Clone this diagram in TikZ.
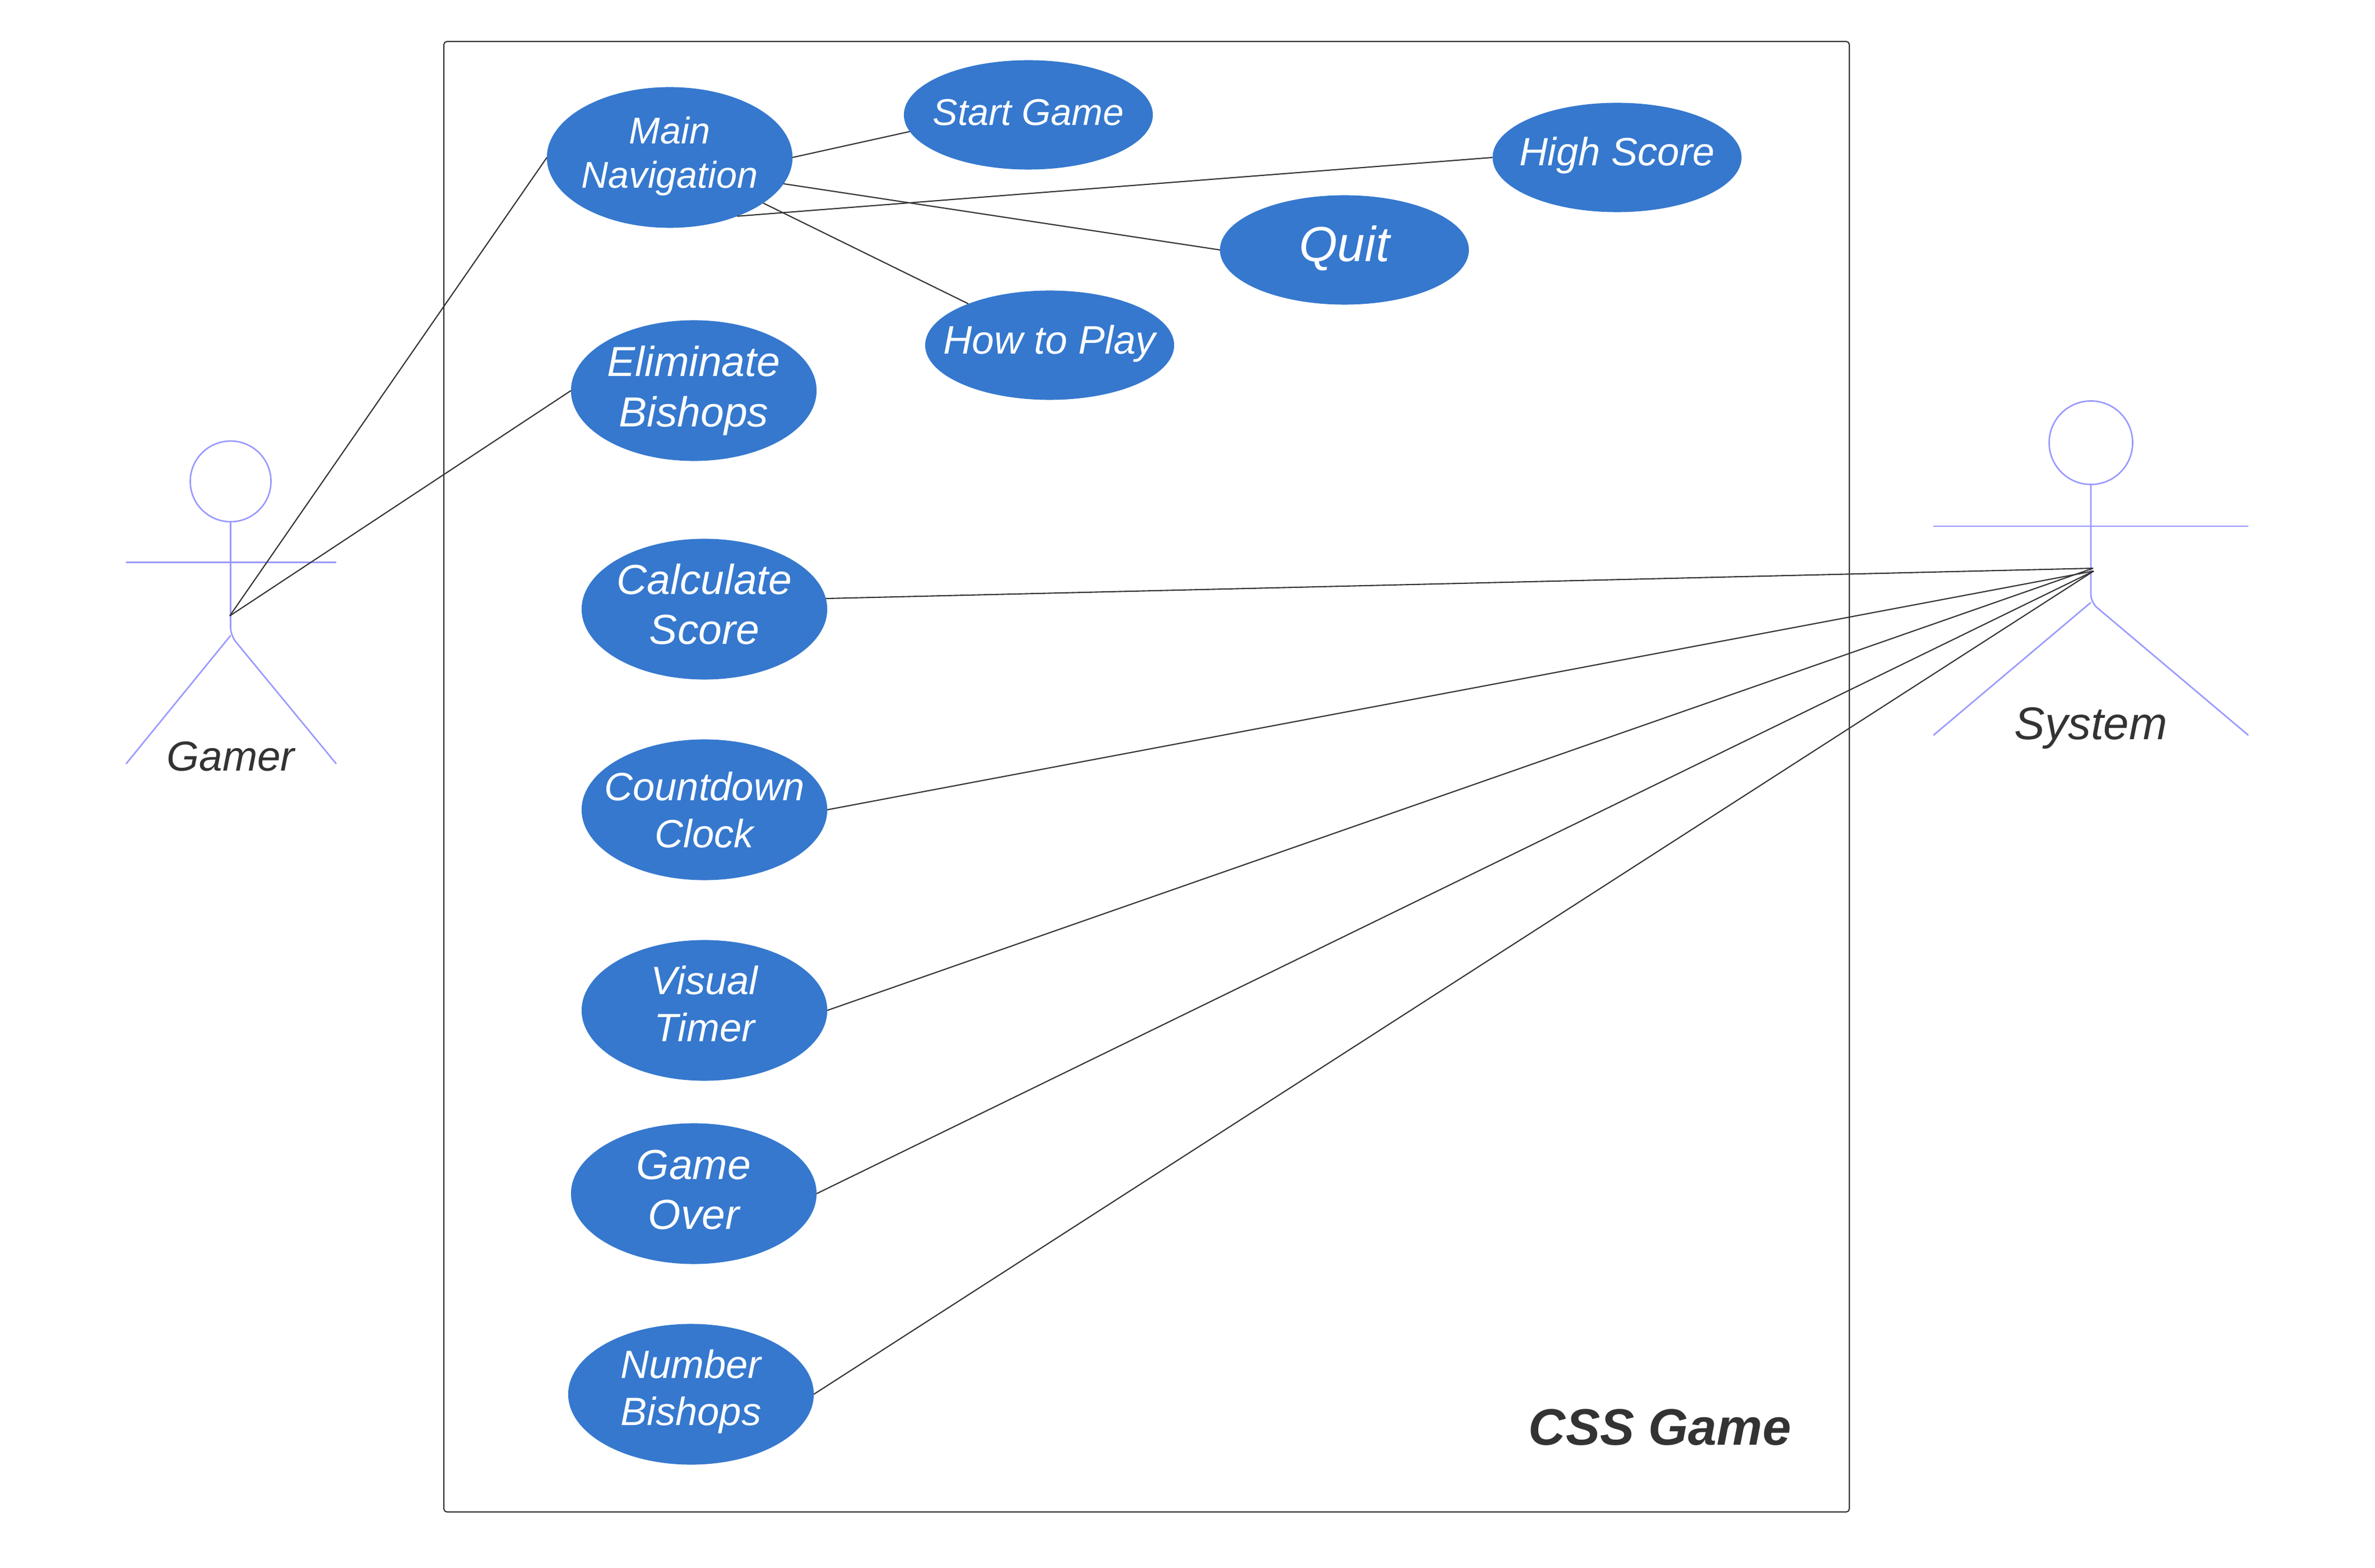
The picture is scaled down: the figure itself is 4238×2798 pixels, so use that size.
\documentclass[tikz,border=0pt]{standalone}
\usepackage{fontspec}
\setmainfont{Liberation Sans}
\usetikzlibrary{shapes.geometric}
\newcommand\pxfont[1]{\fontsize{\fpeval{#1*0.28453}}{\fpeval{#1*0.28453*1.19}}\selectfont\itshape}
\definecolor{ucblue}{HTML}{3578CE}
\definecolor{stick}{HTML}{9999FF}
\definecolor{ink}{HTML}{333333}
\tikzset{
  x=0.01cm, y=-0.01cm,
  usecase/.style={ellipse, fill=ucblue, draw=none, inner sep=0pt, outer sep=0pt, minimum width=4.38cm, minimum height=2.51cm},
  smallcase/.style={usecase, minimum width=4.44cm, minimum height=1.95cm},
  uctext/.style={text=white, align=center, inner sep=0pt, font=\pxfont{#1}},
  link/.style={draw=ink, line width=0.6pt},
  limb/.style={draw=stick, line width=0.75pt},
  frame/.style={draw=ink, line width=0.6pt, rounded corners=1.6pt},
  actorname/.style={text=ink, anchor=base, inner sep=0pt, font=\pxfont{#1}}
}
\begin{document}
\begin{tikzpicture}
\useasboundingbox (0,0) rectangle (4238,2798);
\fill[white] (0,0) rectangle (4238,2798);
\draw[frame] (792,74) rectangle (3300,2698);
\node[uctext=0, anchor=base, font=\pxfont{91.5}\bfseries, text=ink] (title) at (2962,2578) {CSS Game};

% use cases
\node[usecase] (main) at (1195,281) {};
\node[uctext=66.5] (mainT) at (1195,279) {Main\\Navigation};
\node[smallcase] (start) at (1835,205) {};
\node[uctext=66.5] (startT) at (1835,201) {Start Game};
\node[smallcase] (high) at (2885.5,281) {};
\node[uctext=70.5] (highT) at (2885.5,277) {High Score};
\node[smallcase] (quit) at (2399,446) {};
\node[uctext=88] (quitT) at (2399,443) {Quit};
\node[smallcase] (how) at (1873,616) {};
\node[uctext=70.9] (howT) at (1873,613) {How to Play};
\node[usecase] (elim) at (1238,697) {};
\node[uctext=75] (elimT) at (1238,697) {Eliminate\\Bishops};
\node[usecase] (calc) at (1257,1087) {};
\node[uctext=75] (calcT) at (1257,1078) {Calculate\\Score};
\node[usecase] (count) at (1257,1445) {};
\node[uctext=70.5] (countT) at (1257,1445) {Countdown\\Clock};
\node[usecase] (visual) at (1257,1803) {};
\node[uctext=70.5] (visualT) at (1257,1791) {Visual\\Timer};
\node[usecase] (over) at (1238,2130) {};
\node[uctext=75] (overT) at (1238,2123) {Game\\Over};
\node[usecase] (number) at (1233,2488) {};
\node[uctext=70.5] (numberT) at (1233,2483) {Number\\Bishops};

% gamer
\coordinate (gamerHead) at (411.5,859);
\draw[limb] (gamerHead) circle[radius=72];
\coordinate (gamerNeck) at (411.5,931);
\coordinate (gamerCrotch) at (411.5,1134);
\coordinate (gamerArmL) at (225,1003.5);
\coordinate (gamerArmR) at (600,1003.5);
\coordinate (gamerFootL) at (225,1363);
\coordinate (gamerFootR) at (600,1363);
\coordinate (gamerHub) at (410,1099);
\draw[limb] (gamerArmL) -- (gamerArmR);
\draw[limb, rounded corners=4pt] (gamerNeck) -- (gamerCrotch) -- (gamerFootR);
\draw[limb] (gamerCrotch) -- (gamerFootL);
\node[actorname=74.6] (gamer) at (411.5,1376) {Gamer};

% system
\coordinate (sysHead) at (3731,790);
\draw[limb] (sysHead) circle[radius=74.5];
\coordinate (sysNeck) at (3731,864.5);
\coordinate (sysCrotch) at (3731,1075);
\coordinate (sysArmL) at (3450,939);
\coordinate (sysArmR) at (4012,939);
\coordinate (sysFootL) at (3450,1312);
\coordinate (sysFootR) at (4012,1312);
\coordinate (sysHubA) at (3735,1014);
\coordinate (sysHubB) at (3736,1019);
\draw[limb] (sysArmL) -- (sysArmR);
\draw[limb, rounded corners=4pt] (sysNeck) -- (sysCrotch) -- (sysFootR);
\draw[limb] (sysCrotch) -- (sysFootL);
\node[actorname=81.7] (system) at (3731,1320) {System};

% connectors
\draw[link] (gamerHub) -- (main.west);
\draw[link] (gamerHub) -- (elim.west);
\draw[link] (main.east) -- (start.188.9);
\draw[link] (main.-13.9) -- (quit.west);
\draw[link] (main.-26.4) -- (how.153.7);
\draw[link] (main.-41.9) -- (high.west);
\draw[link] (calc.5.6) -- (sysHubA);
\draw[link] (count.east) -- (sysHubB);
\draw[link] (visual.east) -- (sysHubA);
\draw[link] (over.east) -- (sysHubB);
\draw[link] (number.east) -- (sysHubB);
\end{tikzpicture}
\end{document}
